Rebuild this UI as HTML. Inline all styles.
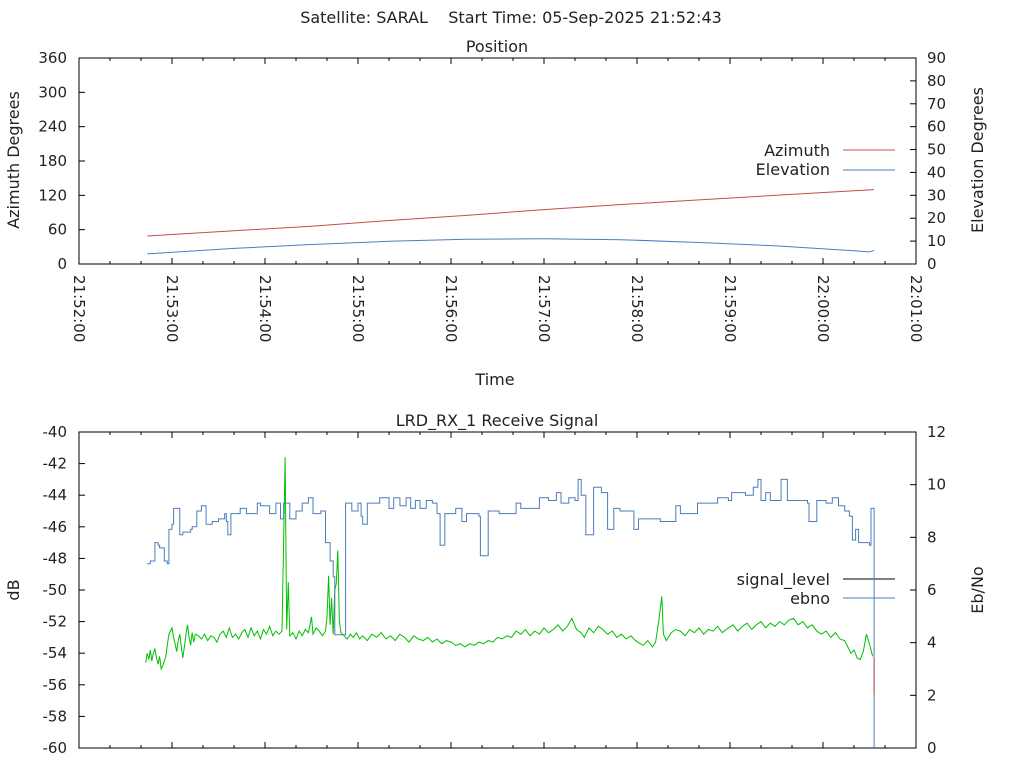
<!DOCTYPE html>
<html><head><meta charset="utf-8"><style>
body{margin:0;background:#fff}
svg{display:block;font-family:"DejaVu Sans","Liberation Sans",sans-serif;font-size:16px;fill:#222}
.tk{font-size:15px}
</style></head><body>
<svg id="c" width="1024" height="768" viewBox="0 0 1024 768">
<text x="511" y="23" text-anchor="middle" xml:space="preserve">Satellite: SARAL    Start Time: 05-Sep-2025 21:52:43</text>
<text x="497" y="52" text-anchor="middle">Position</text>
<text x="495" y="385" text-anchor="middle">Time</text>
<text x="497" y="426" text-anchor="middle">LRD_RX_1 Receive Signal</text>
<text transform="translate(19,160) rotate(-90)" text-anchor="middle">Azimuth Degrees</text>
<text transform="translate(983,160) rotate(-90)" text-anchor="middle">Elevation Degrees</text>
<text transform="translate(19,590) rotate(-90)" text-anchor="middle">dB</text>
<text transform="translate(983,590) rotate(-90)" text-anchor="middle">Eb/No</text>
<text x="830" y="156" text-anchor="end">Azimuth</text>
<line x1="843" y1="150" x2="895" y2="150" stroke="#c0504d" stroke-width="1"/>
<text x="830" y="175" text-anchor="end">Elevation</text>
<line x1="843" y1="170" x2="895" y2="170" stroke="#4a7ebb" stroke-width="1"/>
<text x="830" y="585" text-anchor="end">signal_level</text>
<line x1="843" y1="579" x2="895" y2="579" stroke="#000" stroke-width="1"/>
<text x="830" y="604" text-anchor="end">ebno</text>
<line x1="843" y1="598" x2="895" y2="598" stroke="#4a7ebb" stroke-width="1"/>
</svg>
<script>
// time in seconds since 21:52:00
const azimuth = [[44,49],[100,58],[150,66],[200,76],[250,85],[300,95],[350,104],[400,112],[450,120],[500,128],[513,130]];
const elevation = [[44,4.4],[100,6.8],[150,8.5],[200,9.9],[250,10.8],[300,11.0],[350,10.6],[400,9.4],[450,7.9],[500,5.8],[510,5.3],[513,6.0]];
const ebno = [[44,7.0],[46,7.1],[48,7.1],[49,7.8],[51,7.7],[52,7.6],[55,7.1],[57,7.0],[58,8.3],[60,8.5],[61,9.1],[64,9.1],[65,8.1],[67,8.2],[72,8.3],[73,8.4],[76,9.0],[79,9.2],[81,9.2],[82,8.5],[86,8.6],[90,8.7],[94,8.9],[95,8.6],[96,8.1],[98,8.9],[104,9.1],[108,8.9],[111,8.9],[115,9.3],[117,9.2],[123,8.9],[127,9.3],[130,8.7],[132,9.3],[136,8.7],[140,9.0],[144,9.3],[148,9.5],[151,8.9],[156,9.0],[159,7.8],[162,7.1],[164,6.5],[165,4.3],[170,4.3],[172,9.3],[176,9.0],[180,9.3],[182,8.8],[183,8.5],[186,9.3],[194,9.5],[198,9.5],[200,9.1],[203,9.5],[207,9.2],[211,9.5],[214,9.1],[217,9.4],[220,9.1],[224,9.4],[228,9.3],[231,8.9],[233,7.7],[235,7.7],[236,8.9],[243,9.1],[247,8.6],[250,8.9],[253,8.9],[258,8.8],[259,7.3],[263,7.3],[264,9.0],[271,8.9],[278,8.9],[282,9.3],[285,9.1],[291,9.1],[297,9.5],[303,9.4],[308,9.7],[311,9.3],[316,9.5],[320,9.4],[322,10.2],[324,9.6],[327,8.1],[331,8.1],[332,9.9],[337,9.7],[341,8.3],[345,9.1],[349,9.0],[357,9.0],[358,8.3],[361,8.7],[375,8.6],[385,9.2],[388,8.9],[399,9.3],[412,9.5],[419,9.4],[421,9.7],[430,9.6],[435,9.9],[438,10.2],[440,9.4],[443,9.7],[446,9.4],[453,10.2],[457,9.4],[470,9.3],[471,8.6],[476,9.4],[482,9.3],[486,9.5],[490,9.2],[494,9.0],[497,8.8],[499,7.9],[501,8.3],[503,7.8],[510,7.7],[511,9.1],[512,9.1],[513,0]];
const signalGreen = [[43,-54.6],[44,-54.0],[45,-54.4],[46,-53.8],[47,-54.5],[48,-54.0],[49,-53.7],[50,-54.3],[51,-54.7],[52,-54.2],[53,-55.0],[54,-54.8],[55,-54.5],[56,-54.2],[57,-53.5],[58,-52.8],[59,-52.6],[60,-52.4],[61,-53.0],[62,-53.4],[63,-53.9],[64,-53.2],[65,-52.8],[66,-53.6],[67,-54.3],[68,-53.6],[69,-52.8],[70,-52.2],[71,-53.0],[72,-53.5],[73,-52.7],[74,-53.3],[75,-52.8],[77,-52.9],[79,-53.1],[81,-52.8],[83,-53.2],[85,-52.9],[87,-53.0],[89,-53.3],[91,-52.8],[93,-52.6],[95,-53.0],[97,-52.4],[99,-53.0],[101,-52.8],[103,-53.1],[105,-52.7],[107,-52.5],[109,-53.0],[111,-52.4],[113,-52.9],[115,-52.6],[117,-53.1],[119,-52.5],[121,-52.8],[123,-52.3],[125,-52.9],[127,-52.6],[129,-52.8],[131,-52.6],[132,-47],[133,-41.6],[134,-52.5],[135,-49.5],[136,-52.9],[138,-52.7],[140,-53.1],[142,-52.6],[144,-52.9],[146,-52.5],[148,-52.7],[150,-51.7],[151,-52.8],[153,-52.4],[155,-52.6],[157,-52.9],[159,-52.6],[160,-51.7],[161,-49.1],[162,-52.2],[163,-50.5],[164,-52.8],[165,-50.0],[166,-49.6],[167,-47.5],[168,-52.0],[169,-52.7],[171,-52.9],[173,-53.1],[175,-52.8],[177,-53.0],[179,-52.7],[181,-53.1],[183,-52.9],[186,-53.2],[189,-52.8],[192,-53.0],[195,-52.7],[198,-53.1],[201,-52.9],[204,-53.2],[207,-52.8],[210,-53.0],[213,-53.3],[216,-52.9],[219,-53.1],[222,-53.2],[225,-53.0],[228,-53.3],[231,-53.1],[234,-53.4],[237,-53.2],[240,-53.3],[243,-53.5],[246,-53.4],[249,-53.6],[252,-53.4],[255,-53.5],[258,-53.3],[261,-53.4],[264,-53.2],[267,-53.3],[270,-53.0],[273,-53.1],[276,-52.9],[279,-53.0],[282,-52.6],[285,-52.8],[288,-52.5],[291,-52.9],[294,-52.6],[297,-52.8],[300,-52.4],[303,-52.7],[306,-52.5],[309,-52.2],[312,-52.6],[315,-52.3],[318,-51.8],[321,-52.5],[324,-52.7],[326,-53.0],[329,-52.4],[332,-52.7],[335,-52.3],[338,-52.5],[341,-52.8],[344,-52.6],[347,-53.0],[350,-52.8],[353,-53.1],[356,-52.9],[359,-53.2],[362,-53.4],[364,-53.5],[367,-53.2],[370,-53.6],[372,-53.3],[374,-52.0],[376,-50.4],[377,-52.8],[379,-53.2],[382,-52.7],[385,-52.5],[388,-52.6],[391,-52.9],[394,-52.5],[397,-52.7],[400,-52.4],[403,-52.8],[406,-52.5],[409,-52.6],[412,-52.3],[415,-52.7],[419,-52.4],[422,-52.2],[425,-52.6],[428,-52.3],[431,-52.1],[434,-52.5],[437,-52.2],[440,-52.0],[443,-52.4],[446,-52.1],[449,-52.3],[452,-52.0],[455,-52.2],[458,-51.9],[461,-51.8],[464,-52.2],[467,-52.0],[470,-52.4],[473,-52.2],[476,-52.6],[479,-52.8],[482,-52.6],[485,-53.0],[488,-52.7],[491,-53.1],[494,-53.2],[496,-53.6],[498,-54.0],[500,-53.8],[502,-54.3],[504,-54.4],[506,-53.9],[508,-52.8],[510,-53.4],[512,-54.2]];
const signalRed = [[513,-54.3],[513,-56.6]];
const xTicks = ["21:52:00","21:53:00","21:54:00","21:55:00","21:56:00","21:57:00","21:58:00","21:59:00","22:00:00","22:01:00"];
const azTicks = [0,60,120,180,240,300,360];
const elTicks = [0,10,20,30,40,50,60,70,80,90];
const dbTicks = [-60,-58,-56,-54,-52,-50,-48,-46,-44,-42,-40];
const ebTicks = [0,2,4,6,8,10,12];

const svg=document.getElementById('c');
const NS='http://www.w3.org/2000/svg';
function mk(tag,at,parent){const e=document.createElementNS(NS,tag);for(const k in at)e.setAttribute(k,at[k]);(parent||svg).appendChild(e);return e;}
const X0=79,X1=916,T0=0,T1=540;
const xs=t=>X0+(t-T0)/(T1-T0)*(X1-X0);
function lin(d0,d1,p0,p1){return v=>p0+(v-d0)/(d1-d0)*(p1-p0);}
function panel(top,bot,name,labelsX){
  const g=mk('g',{});
  
  
  mk('rect',{x:X0,y:top,width:X1-X0,height:bot-top,fill:'none',stroke:'#000','stroke-width':1},g);
  for(let s=0;s<=540;s+=20){
    const x=xs(s),L=(s%60===0)?6:3;
    mk('line',{x1:x,y1:bot,x2:x,y2:bot-L,stroke:'#000'},g);
    mk('line',{x1:x,y1:top,x2:x,y2:top+L,stroke:'#000'},g);
  }
  if(labelsX){
    xTicks.forEach((lab,i)=>{
      const x=xs(i*60);
      const t=mk('text',{transform:`translate(${x-5},${bot+11}) rotate(90)`,class:'tk'},g);
      
      
      t.textContent=lab;
    });
  }
  return g;
}
function yAxis(g,ticks,sc,side){
  ticks.forEach(v=>{
    const y=sc(v);
    if(side==='L'){mk('line',{x1:X0,y1:y,x2:X0+6,y2:y,stroke:'#000'},g);}
    else{mk('line',{x1:X1,y1:y,x2:X1-6,y2:y,stroke:'#000'},g);}
    const t=mk('text',{x:side==='L'?X0-12:X1+11,y:y+5,'text-anchor':side==='L'?'end':'start',class:'tk'},g);
    
    
    t.textContent=v;
  });
}
function line(data,ys,color,name,steps){
  let pts=[];
  data.forEach((d,i)=>{
    if(steps&&i>0)pts.push(xs(d[0]).toFixed(1)+','+ys(data[i-1][1]).toFixed(1));
    pts.push(xs(d[0]).toFixed(1)+','+ys(d[1]).toFixed(1));
  });
  const p=mk('polyline',{points:pts.join(' '),fill:'none',stroke:color,'stroke-width':1});
  
  
}
const tTop=58,tBot=264;
const g1=panel(tTop,tBot,'position-plot',true);
const azS=lin(0,360,tBot,tTop), elS=lin(0,90,tBot,tTop);
yAxis(g1,azTicks,azS,'L');
yAxis(g1,elTicks,elS,'R');
line(azimuth,azS,'#c0504d','azimuth-line');
line(elevation,elS,'#4a7ebb','elevation-line');
const bTop=432,bBot=748;
const g2=panel(bTop,bBot,'signal-plot',false);
const dbS=lin(-60,-40,bBot,bTop), ebS=lin(0,12,bBot,bTop);
yAxis(g2,dbTicks,dbS,'L');
yAxis(g2,ebTicks,ebS,'R');
line(signalGreen,dbS,'#00c000','signal-green-line');
line(ebno,ebS,'#4a7ebb','ebno-line',true);
line(signalRed,dbS,'#c0504d','signal-red-line');
</script>
</body></html>
